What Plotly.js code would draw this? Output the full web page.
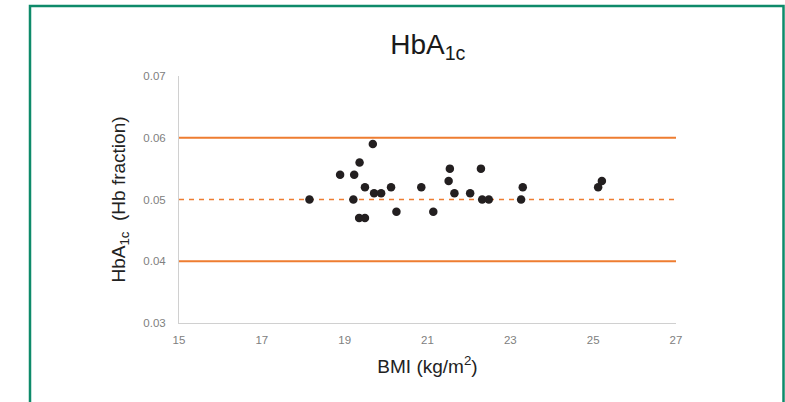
<!DOCTYPE html>
<html>
<head>
<meta charset="utf-8">
<script src="https://cdn.plot.ly/plotly-3.0.1.min.js"></script>
<style>html,body{margin:0;padding:0;background:#fff;}#chart{width:785px;height:402px;}</style>
</head>
<body>
<div id="chart"></div>
<script>
// Data
const bmi = [18.15, 18.89, 19.23, 19.21, 19.36, 19.35, 19.49, 19.49, 19.68, 19.71, 19.88, 20.12, 20.25,
             20.85, 21.14, 21.54, 21.51, 21.65, 22.03, 22.29, 22.32, 22.48, 23.30, 23.26, 25.12, 25.21];
const hba1c = [0.050, 0.054, 0.054, 0.050, 0.056, 0.047, 0.047, 0.052, 0.059, 0.051, 0.051, 0.052, 0.048,
               0.052, 0.048, 0.055, 0.053, 0.051, 0.051, 0.055, 0.050, 0.050, 0.052, 0.050, 0.052, 0.053];
const xRange = [15, 27];
const yRange = [0.03, 0.07];
const limitLines = [0.06, 0.04];
const meanLine = 0.05;
const xTicks = [15, 17, 19, 21, 23, 25, 27];
const yTicks = [0.03, 0.04, 0.05, 0.06, 0.07];

const orange = '#EE7D31';
const traces = [];
limitLines.forEach(v => traces.push({
  x: xRange, y: [v, v], mode: 'lines', type: 'scatter',
  line: {color: orange, width: 1.8}, hoverinfo: 'skip', showlegend: false
}));
traces.push({
  x: xRange, y: [meanLine, meanLine], mode: 'lines', type: 'scatter',
  line: {color: orange, width: 1.5, dash: '5px,5px'}, hoverinfo: 'skip', showlegend: false
});
traces.push({
  x: bmi, y: hba1c, mode: 'markers', type: 'scatter',
  marker: {color: '#231F20', size: 8.5}, showlegend: false
});

const layout = {
  width: 785, height: 402,
  margin: {l: 179, r: 109, t: 76, b: 79},
  paper_bgcolor: '#fff', plot_bgcolor: '#fff',
  font: {family: 'Liberation Sans, Arial, sans-serif', color: '#222'},
  title: {text: 'HbA<sub>1c</sub>', font: {size: 28, color: '#1a1a1a'},
          x: 0.545, xanchor: 'center', y: 0.89, yanchor: 'middle'},
  xaxis: {
    range: xRange, tickvals: xTicks, ticktext: xTicks.map(String),
    showgrid: false, zeroline: false, showline: true, linecolor: '#d0d0d0', linewidth: 1,
    ticks: 'outside', ticklen: 6, tickcolor: 'rgba(0,0,0,0)',
    tickfont: {size: 11.5, color: '#808080'},
    title: {text: 'BMI (kg/m<sup>2</sup>)', font: {size: 19, color: '#222'}, standoff: 14}
  },
  yaxis: {
    range: yRange, tickvals: yTicks, ticktext: yTicks.map(v => v.toFixed(2)),
    showgrid: false, zeroline: false, showline: true, linecolor: '#d0d0d0', linewidth: 1,
    ticks: 'outside', ticklen: 10, tickcolor: 'rgba(0,0,0,0)',
    tickfont: {size: 11.5, color: '#808080'},
    title: {text: 'HbA<sub>1c</sub>  (Hb fraction)', font: {size: 19, color: '#222'}, standoff: 12}
  },
  shapes: [{
    type: 'rect', xref: 'paper', yref: 'paper',
    x0: (30 - 179) / 497, x1: (783.5 - 179) / 497,
    y0: (323 - 420) / 247, y1: (323 - 6) / 247,
    line: {color: '#0E8A6A', width: 2.5}, fillcolor: 'rgba(0,0,0,0)'
  }]
};

Plotly.newPlot('chart', traces, layout, {staticPlot: true});
</script>
</body>
</html>
